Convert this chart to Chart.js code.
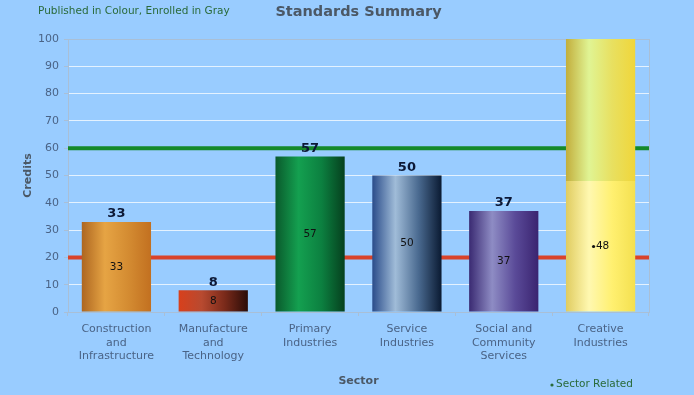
<!DOCTYPE html>
<html>
<head>
<meta charset="utf-8">
<script src="https://cdn.jsdelivr.net/npm/chart.js@4/dist/chart.umd.min.js"></script>
<style>
  html, body { margin: 0; padding: 0; background: #99ccff; }
  #wrap { width: 694px; height: 395px; }
</style>
</head>
<body>
<div id="wrap"><canvas id="myChart" width="694" height="395"></canvas></div>
<script>
// # Data
const sectors = [
  ["Construction", "and", "Infrastructure"],
  ["Manufacture", "and", "Technology"],
  ["Primary", "Industries"],
  ["Service", "Industries"],
  ["Social and", "Community", "Services"],
  ["Creative", "Industries"],
];
const credits = [33, 8, 57, 50, 37, 48];
const creditsUpper = [null, null, null, null, null, 52];
const topLabels = [33, 8, 57, 50, 37, null];
const yMin = 0;
const yMax = 100;
const yStep = 10;
const greenLine = 60;
const redLine = 20;

// # Bar colours (left -> middle -> right, cylinder look)
const lowerColours = [
  ["#ad6620", "#e6a444", "#d48c32", "#c27020"],
  ["#d8401c", "#b84a30", "#7a2a1a", "#2a0c08"],
  ["#0a5a2c", "#14a050", "#0c8040", "#06401e"],
  ["#2a4c8a", "#a0bcd8", "#4a6a90", "#0a1a32"],
  ["#3a2a72", "#8e8cc4", "#5a4a98", "#3a2470"],
  ["#e0cc60", "#fff8b0", "#fff070", "#f4e050"],
];
const upperColours = [null, null, null, null, null, ["#c2ae3c", "#e0f494", "#e8e060", "#f0d63a"]];

const catPct = 0.715;

const gradientFor = (colours) => (c) => {
  const stops = colours[c.dataIndex];
  const chart = c.chart;
  if (!stops || !chart.chartArea) return stops ? stops[1] : "transparent";
  const xs = chart.scales.x;
  const cx = xs.getPixelForValue(c.dataIndex);
  const w = (xs.width / sectors.length) * catPct;
  const g = chart.ctx.createLinearGradient(cx - w / 2, 0, cx + w / 2, 0);
  stops.forEach((col, k) => g.addColorStop(k / (stops.length - 1), col));
  return g;
};

// # Threshold lines, frame and texts
const extras = {
  id: "extras",
  beforeDatasetsDraw(chart) {
    const { ctx, chartArea: a, scales: { y } } = chart;
    ctx.save();
    ctx.strokeStyle = "#a9bfd6";
    ctx.lineWidth = 1;
    ctx.strokeRect(a.left + 0.5, a.top + 0.5, a.right - a.left, a.bottom - a.top);
    ctx.lineWidth = 4;
    ctx.strokeStyle = "#15892a";
    let py = y.getPixelForValue(greenLine);
    ctx.beginPath(); ctx.moveTo(a.left, py); ctx.lineTo(a.right, py); ctx.stroke();
    ctx.strokeStyle = "#d9432a";
    py = y.getPixelForValue(redLine);
    ctx.beginPath(); ctx.moveTo(a.left, py); ctx.lineTo(a.right, py); ctx.stroke();
    ctx.restore();
  },
  afterDatasetsDraw(chart) {
    const { ctx, chartArea: a, scales: { x, y } } = chart;
    ctx.save();
    ctx.textAlign = "center";
    ctx.textBaseline = "middle";
    credits.forEach((v, i) => {
      const cx = x.getPixelForValue(i);
      const cy = y.getPixelForValue(v / 2);
      ctx.fillStyle = "#111";
      ctx.font = "10.5px 'DejaVu Sans'";
      if (topLabels[i] === null) {
        ctx.fillText(v, cx + 2, cy);
        ctx.beginPath();
        ctx.arc(cx - 7, cy, 1.6, 0, Math.PI * 2);
        ctx.fill();
      } else {
        ctx.fillText(v, cx, cy);
        ctx.fillStyle = "#0c1836";
        ctx.font = "bold 13px 'DejaVu Sans'";
        ctx.fillText(topLabels[i], cx, y.getPixelForValue(v) - 8);
      }
    });

    // titles
    ctx.fillStyle = "#4b5866";
    ctx.font = "bold 14.5px 'DejaVu Sans'";
    ctx.fillText("Standards Summary", (a.left + a.right) / 2, 12);
    ctx.font = "bold 11px 'DejaVu Sans'";
    ctx.fillText("Sector", (a.left + a.right) / 2, 381);
    ctx.save();
    ctx.translate(28, (a.top + a.bottom) / 2);
    ctx.rotate(-Math.PI / 2);
    ctx.fillText("Credits", 0, 0);
    ctx.restore();

    ctx.textAlign = "left";
    ctx.fillStyle = "#2a6a3a";
    ctx.font = "10.5px 'DejaVu Sans'";
    ctx.fillText("Published in Colour, Enrolled in Gray", 38, 11);
    ctx.fillText("Sector Related", 556, 384);
    ctx.beginPath();
    ctx.arc(552, 385, 1.6, 0, Math.PI * 2);
    ctx.fill();
    ctx.restore();
  },
};

// # Create the chart
const chart = document.getElementById("myChart");

new Chart(chart, {
  type: "bar",
  data: {
    labels: sectors,
    datasets: [
      {
        label: "Enrolled",
        data: credits,
        backgroundColor: gradientFor(lowerColours),
        borderWidth: 0,
      },
      {
        label: "Published",
        data: creditsUpper,
        backgroundColor: gradientFor(upperColours),
        borderWidth: 0,
      },
    ],
  },
  options: {
    responsive: false,
    animation: false,
    events: [],
    layout: { padding: { top: 39, right: 45, left: 0, bottom: 0 } },
    datasets: { bar: { categoryPercentage: catPct, barPercentage: 1 } },
    plugins: { legend: { display: false }, tooltip: { enabled: false }, title: { display: false } },
    scales: {
      x: {
        stacked: true,
        afterFit: (s) => { s.height = 83; },
        border: { color: "#a9bfd6" },
        grid: { drawOnChartArea: false, tickLength: 4, tickColor: "#a9bfd6" },
        ticks: {
          color: "#4a6386",
          font: { family: "'DejaVu Sans'", size: 11, lineHeight: 1.2 },
          padding: 7,
          maxRotation: 0,
        },
      },
      y: {
        stacked: true,
        min: yMin,
        max: yMax,
        afterFit: (s) => { s.width = 68; },
        border: { color: "#a9bfd6" },
        grid: { color: "#e4f2ff", tickColor: "#a9bfd6", tickLength: 4 },
        ticks: {
          stepSize: yStep,
          color: "#4a6386",
          font: { family: "'DejaVu Sans'", size: 11 },
          padding: 5,
        },
      },
    },
  },
  plugins: [extras],
});
</script>
</body>
</html>
